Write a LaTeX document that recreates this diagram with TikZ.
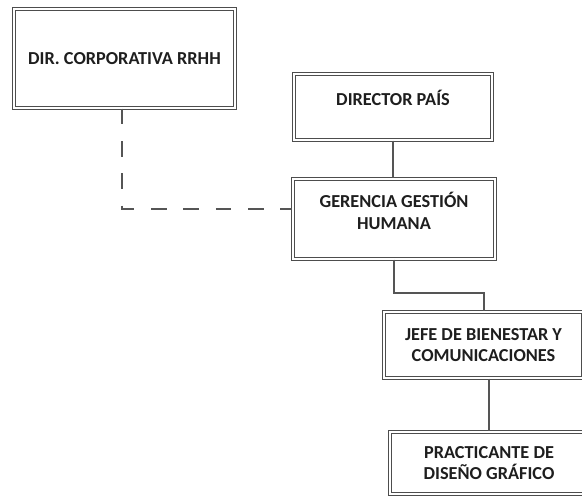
\documentclass[tikz,border=0pt]{standalone}
\usepackage{fontspec}
\setmainfont{Carlito}
\usetikzlibrary{positioning}
\definecolor{boxgray}{HTML}{4D4D4D}
\definecolor{linegray}{HTML}{555555}
\definecolor{txtdark}{HTML}{1E1E1E}

\begin{document}
\begin{tikzpicture}[
  x=0.025cm, y=-0.025cm,
  orgbox/.style={draw=boxgray,double,double distance=0.85pt,line width=1pt,
                 align=center,inner sep=0pt,text=txtdark,
                 font=\fontsize{13}{15}\selectfont\bfseries},
  link/.style={draw=linegray,line width=1pt},
  dotted link/.style={draw=linegray,line width=1pt,dash pattern=on 11pt off 12pt}
]
\clip (0,0) rectangle (582,497);

% ---- Corporate box ------------------------------------------
\node[orgbox,minimum width=5.525cm,minimum height=2.475cm]
  (dircorp) at (124.5,58.5) {DIR. CORPORATIVA RRHH};

% ---- Country chain ------------------------------------------
\node[orgbox,minimum width=4.95cm,minimum height=1.65cm,
      text height=0.35cm,text depth=0.4cm]
  (director) at (393,107) {DIRECTOR PAÍS};
\node[orgbox,minimum width=5.05cm,minimum height=2.0cm,
      text height=1.0cm,text depth=0.5cm]
  (gerencia) at (394,219) {GERENCIA GESTIÓN\\HUMANA};
\node[orgbox,minimum width=4.975cm,minimum height=1.65cm]
  (jefe) at (483.5,345) {JEFE DE BIENESTAR Y\\COMUNICACIONES};
\node[orgbox,minimum width=4.95cm,minimum height=1.55cm]
  (practicante) at (489,463) {PRACTICANTE DE\\DISEÑO GRÁFICO};

% Connectors
\coordinate (dk) at (122,209);
\coordinate (g2j) at (484,293);
\draw[dotted link] (dircorp.south -| dk) -- (dk) -- (dk -| gerencia.west);
\draw[link] (director.south) -- (director.south |- gerencia.north);
\draw[link] (gerencia.south) |- (g2j) -- (g2j |- jefe.north);
\draw[link] (practicante.north |- jefe.south) -- (practicante.north);

\end{tikzpicture}
\end{document}
